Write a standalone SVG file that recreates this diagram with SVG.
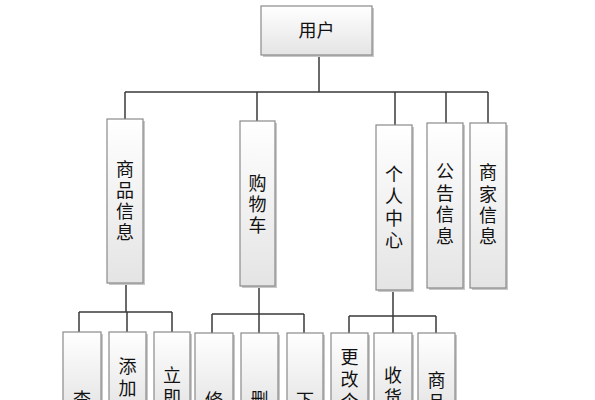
<svg xmlns="http://www.w3.org/2000/svg" width="595" height="400" viewBox="0 0 595 400">
<defs>
<linearGradient id="g" x1="0" y1="0" x2="0" y2="1">
<stop offset="0" stop-color="#ffffff"/>
<stop offset="1" stop-color="#e4e4e4"/>
</linearGradient>
<style>
.box{fill:url(#g);stroke:#8a8a8a;stroke-width:1.2}
.sh{fill:#c8c8c8}
.t{font-family:"Liberation Sans","Noto Sans CJK SC",sans-serif;font-size:18px;fill:#111;text-anchor:middle}
.c{fill:none;stroke:#3a3a3a;stroke-width:1.5}
</style>
</defs>
<rect width="595" height="400" fill="#ffffff"/>
<g id="connectors">
<path class="c" d="M319 56V92M125 92H488M125 92V119M257 92V121M395 92V125M446 92V123M488 92V123"/>
<path class="c" d="M126 283V312M79 312H172M79 312V332M127 312V332M172 312V332"/>
<path class="c" d="M259 286V314M212 314H304M212 314V333M259 314V333M304 314V333"/>
<path class="c" d="M393 290V316M349 316H436M349 316V333M393 316V333M436 316V333"/>
</g>
<g id="n-user">
<rect class="sh" x="263" y="8" width="111" height="49"/>
<rect class="box" x="261" y="6" width="111" height="49"/>
<text class="t" x="316.5" y="37">用户</text>
</g>
<g id="n-goods">
<rect class="sh" x="109" y="121" width="36" height="164"/>
<rect class="box" x="107" y="119" width="36" height="164"/>
<text class="t" x="125"><tspan x="125" y="176">商</tspan><tspan x="125" y="197">品</tspan><tspan x="125" y="218">信</tspan><tspan x="125" y="239">息</tspan></text>
</g>
<g id="n-cart">
<rect class="sh" x="242" y="123" width="35" height="165"/>
<rect class="box" x="240" y="121" width="35" height="165"/>
<text class="t"><tspan x="257.5" y="190">购</tspan><tspan x="257.5" y="211">物</tspan><tspan x="257.5" y="232">车</tspan></text>
</g>
<g id="n-personal">
<rect class="sh" x="378" y="127" width="36" height="165"/>
<rect class="box" x="376" y="125" width="36" height="165"/>
<text class="t"><tspan x="394" y="181">个</tspan><tspan x="394" y="203">人</tspan><tspan x="394" y="225">中</tspan><tspan x="394" y="247">心</tspan></text>
</g>
<g id="n-notice">
<rect class="sh" x="429" y="125" width="36" height="165"/>
<rect class="box" x="427" y="123" width="36" height="165"/>
<text class="t"><tspan x="445" y="178">公</tspan><tspan x="445" y="200">告</tspan><tspan x="445" y="221">信</tspan><tspan x="445" y="243">息</tspan></text>
</g>
<g id="n-shop">
<rect class="sh" x="472" y="125" width="36" height="165"/>
<rect class="box" x="470" y="123" width="36" height="165"/>
<text class="t"><tspan x="488" y="179">商</tspan><tspan x="488" y="201">家</tspan><tspan x="488" y="222">信</tspan><tspan x="488" y="243">息</tspan></text>
</g>
<g id="n-c1">
<rect class="sh" x="65" y="334" width="38" height="80"/>
<rect class="box" x="63" y="332" width="38" height="80"/>
<text class="t"><tspan x="82" y="406">查</tspan></text>
</g>
<g id="n-c2">
<rect class="sh" x="111" y="334" width="37" height="80"/>
<rect class="box" x="109" y="332" width="37" height="80"/>
<text class="t"><tspan x="127.5" y="372.5">添</tspan><tspan x="127.5" y="394.5">加</tspan></text>
</g>
<g id="n-c3">
<rect class="sh" x="156" y="334" width="36" height="80"/>
<rect class="box" x="154" y="332" width="36" height="80"/>
<text class="t"><tspan x="172" y="382">立</tspan><tspan x="172" y="404">即</tspan></text>
</g>
<g id="n-c4">
<rect class="sh" x="197" y="335" width="38" height="80"/>
<rect class="box" x="195" y="333" width="38" height="80"/>
<text class="t"><tspan x="214" y="407">修</tspan></text>
</g>
<g id="n-c5">
<rect class="sh" x="243" y="335" width="37" height="80"/>
<rect class="box" x="241" y="333" width="37" height="80"/>
<text class="t"><tspan x="259.5" y="406">删</tspan></text>
</g>
<g id="n-c6">
<rect class="sh" x="289" y="335" width="36" height="80"/>
<rect class="box" x="287" y="333" width="36" height="80"/>
<text class="t"><tspan x="305" y="407">下</tspan></text>
</g>
<g id="n-c7">
<rect class="sh" x="333" y="335" width="37" height="80"/>
<rect class="box" x="331" y="333" width="37" height="80"/>
<text class="t"><tspan x="349.5" y="364">更</tspan><tspan x="349.5" y="386">改</tspan><tspan x="349.5" y="408">个</tspan></text>
</g>
<g id="n-c8">
<rect class="sh" x="376" y="335" width="38" height="80"/>
<rect class="box" x="374" y="333" width="38" height="80"/>
<text class="t"><tspan x="393" y="382">收</tspan><tspan x="393" y="404">货</tspan></text>
</g>
<g id="n-c9">
<rect class="sh" x="420" y="335" width="37" height="80"/>
<rect class="box" x="418" y="333" width="37" height="80"/>
<text class="t"><tspan x="436.5" y="387">商</tspan><tspan x="436.5" y="409">品</tspan></text>
</g>
</svg>
